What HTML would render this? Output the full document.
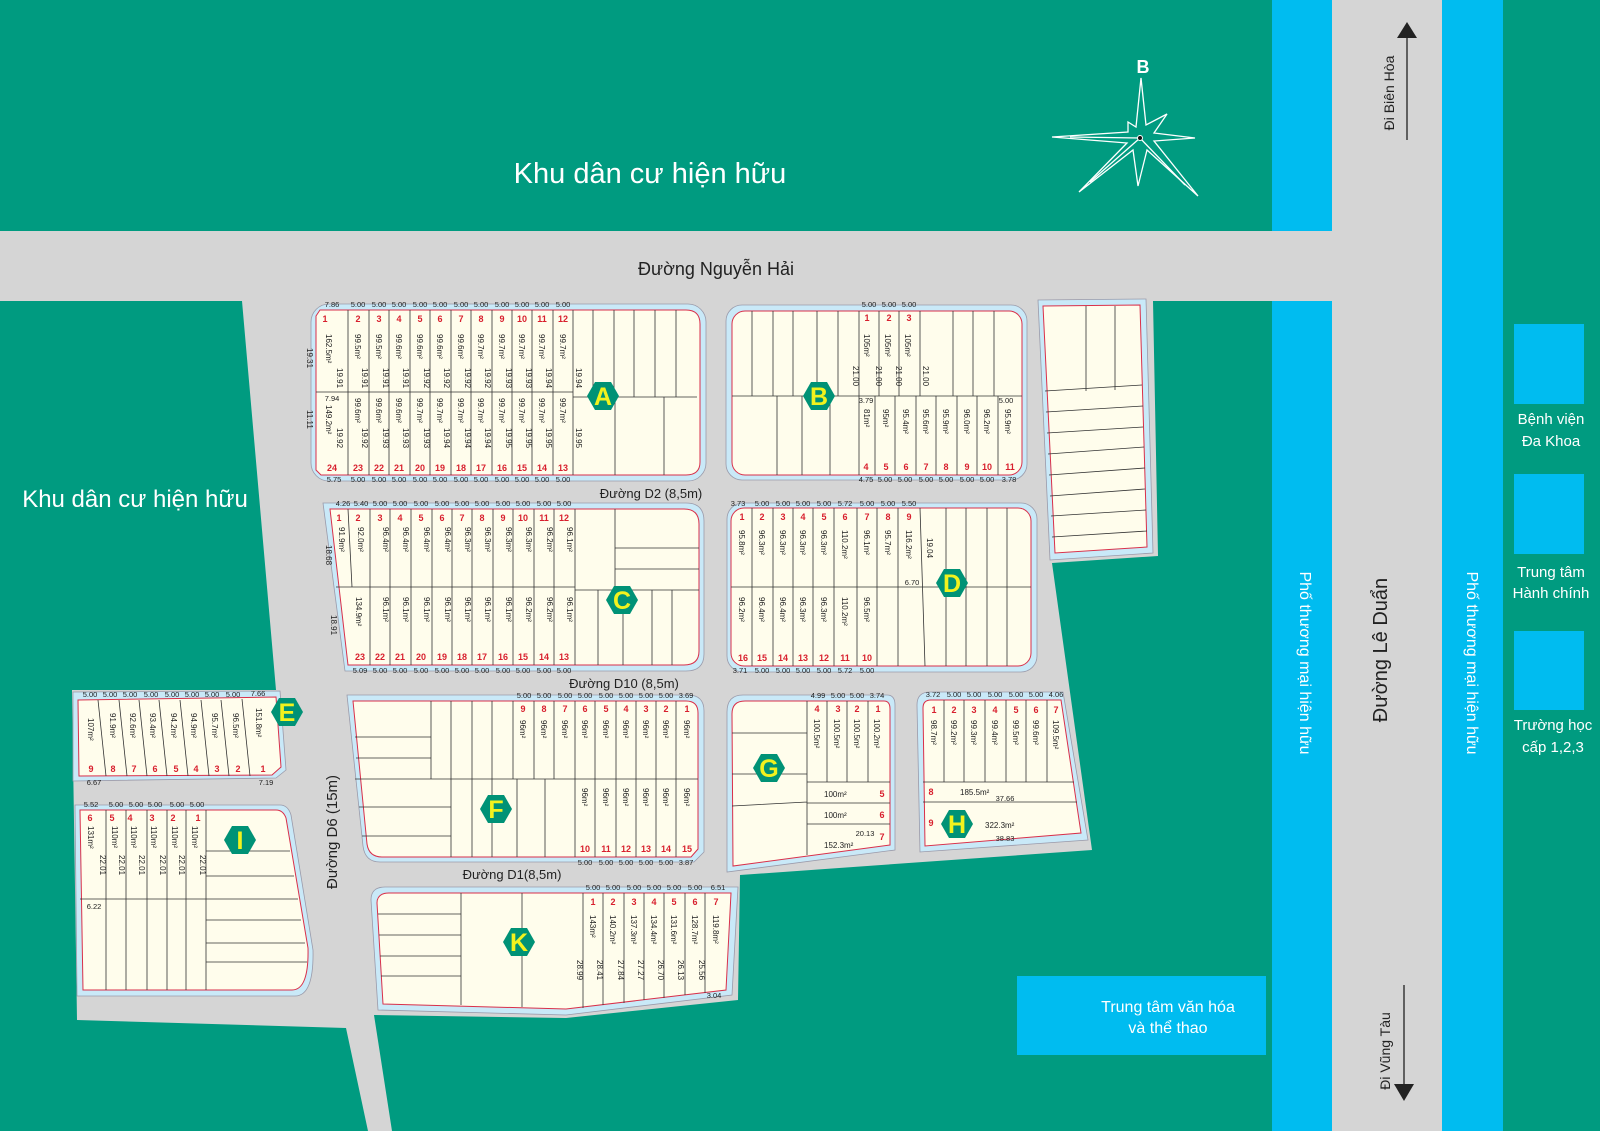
<!DOCTYPE html>
<html><head><meta charset="utf-8">
<style>
html,body{margin:0;padding:0;background:#009b80;}
svg{display:block}
text{font-family:"Liberation Sans",sans-serif;}
.n{font-size:9px;font-weight:bold;fill:#d8202e;text-anchor:middle}
.a{font-size:8px;fill:#222}
.d{font-size:7.5px;fill:#222;text-anchor:middle}
.o{fill:#c9e9f8;stroke:#9a9aaa;stroke-width:.8}
.i{fill:#fffdec;stroke:#d9304a;stroke-width:1}
.l{stroke:#333;stroke-width:.8;fill:none}
.hx polygon{fill:#009276}
.hx text{font-size:25px;font-weight:bold;fill:#f2f21e;text-anchor:middle}
.w{fill:#fff;text-anchor:middle}
</style></head><body>
<svg width="1600" height="1131" viewBox="0 0 1600 1131" xmlns="http://www.w3.org/2000/svg">
<rect width="1600" height="1131" fill="#009b80"/>
<!-- roads -->
<polygon fill="#d5d5d5" points="0,231 1332,231 1332,301 1153,301 1158,556 1052,563 1092,850 740,875 738,1000 566,1018 374,1015 392,1131 368,1131 346,1028 77,1020 72,690 276,690 242,301 0,301"/>
<rect x="1272" y="0" width="60" height="231" fill="#00bcf0"/>
<rect x="1272" y="301" width="60" height="830" fill="#00bcf0"/>
<rect x="1332" y="0" width="110" height="1131" fill="#d5d5d5"/>
<rect x="1442" y="0" width="61" height="1131" fill="#00bcf0"/>
<rect x="1503" y="0" width="97" height="1131" fill="#009b80"/>
<rect x="1514" y="324" width="70" height="80" fill="#00bcf0"/>
<rect x="1514" y="474" width="70" height="80" fill="#00bcf0"/>
<rect x="1514" y="631" width="70" height="79" fill="#00bcf0"/>
<rect x="1017" y="976" width="249" height="79" fill="#00bcf0"/>

<!-- labels -->
<text x="650" y="183" class="w" style="font-size:29px">Khu dân cư hiện hữu</text>
<text x="135" y="507" class="w" style="font-size:24px">Khu dân cư hiện hữu</text>
<text x="716" y="275" style="font-size:18px;fill:#222;text-anchor:middle">Đường Nguyễn Hải</text>
<text x="1551" y="424" class="w" style="font-size:15px">Bệnh viện</text>
<text x="1551" y="446" class="w" style="font-size:15px">Đa Khoa</text>
<text x="1551" y="577" class="w" style="font-size:15px">Trung tâm</text>
<text x="1551" y="598" class="w" style="font-size:15px">Hành chính</text>
<text x="1553" y="730" class="w" style="font-size:15px">Trường học</text>
<text x="1553" y="752" class="w" style="font-size:15px">cấp 1,2,3</text>
<text x="1168" y="1012" class="w" style="font-size:16px">Trung tâm văn hóa</text>
<text x="1168" y="1033" class="w" style="font-size:16px">và thể thao</text>
<text transform="translate(1300,663) rotate(90)" class="w" style="font-size:16px">Phố thương mại hiện hữu</text>
<text transform="translate(1467,663) rotate(90)" class="w" style="font-size:16px">Phố thương mại hiện hữu</text>
<text transform="translate(1387,650) rotate(-90)" style="font-size:20px;fill:#222;text-anchor:middle">Đường Lê Duẩn</text>
<text transform="translate(1394,93) rotate(-90)" style="font-size:14px;fill:#222;text-anchor:middle">Đi Biên Hòa</text>
<line x1="1407" y1="140" x2="1407" y2="36" stroke="#222" stroke-width="1.3"/>
<polygon points="1397,38 1417,38 1407,22" fill="#222"/>
<text transform="translate(1390,1051) rotate(-90)" style="font-size:14px;fill:#222;text-anchor:middle">Đi Vũng Tàu</text>
<line x1="1404" y1="985" x2="1404" y2="1088" stroke="#222" stroke-width="1.3"/>
<polygon points="1394,1084 1414,1084 1404,1101" fill="#222"/>
<text transform="translate(337,832) rotate(-90)" style="font-size:15px;fill:#222;text-anchor:middle">Đường D6 (15m)</text>
<text x="651" y="498" style="font-size:13px;fill:#222;text-anchor:middle">Đường D2 (8,5m)</text>
<text x="624" y="688" style="font-size:13px;fill:#222;text-anchor:middle">Đường D10 (8,5m)</text>
<text x="512" y="879" style="font-size:13px;fill:#222;text-anchor:middle">Đường D1(8,5m)</text>

<!-- compass -->
<text x="1143" y="73" class="w" style="font-size:18px;font-weight:bold">B</text>
<g stroke="#fff" stroke-width="1.3" fill="none">
<polygon points="1141,78 1146,125 1167,114 1154,133 1195,138 1154,141 1198,196 1147,150 1138,186 1133,150 1079,192 1127,143 1052,137 1128,132 1128,122 1136,127"/>
<line x1="1140" y1="138" x2="1090" y2="182"/><line x1="1140" y1="138" x2="1185" y2="185"/><line x1="1140" y1="138" x2="1070" y2="137"/>
</g>
<circle cx="1140" cy="138" r="2.5" fill="#111" stroke="#fff"/>

<!-- Block A -->
<rect class="o" x="311" y="304" width="395" height="177" rx="18"/>
<path class="i" d="M320,310 H686 Q700,310 700,324 V462 Q700,475 686,475 H321 L316,470 V316 Z"/>
<g class="l">
<path d="M316,392 H573 M573,397 H697 M573,310 V475 M615,397 V475 M664,397 V475"/>
<path d="M348,310V475M369,310V475M389,310V475M410,310V475M430,310V475M451,310V475M471,310V475M492,310V475M512,310V475M532,310V475M553,310V475"/>
<path d="M593,310V397M614,310V397M634,310V397M655,310V397M676,310V397"/>
</g>
<g class="d"><text x="332" y="307">7.86</text><text x="358" y="307">5.00</text><text x="379" y="307">5.00</text><text x="399" y="307">5.00</text><text x="420" y="307">5.00</text><text x="440" y="307">5.00</text><text x="461" y="307">5.00</text><text x="481" y="307">5.00</text><text x="502" y="307">5.00</text><text x="522" y="307">5.00</text><text x="542" y="307">5.00</text><text x="563" y="307">5.00</text>
<text x="334" y="482">5.75</text><text x="358" y="482">5.00</text><text x="379" y="482">5.00</text><text x="399" y="482">5.00</text><text x="420" y="482">5.00</text><text x="440" y="482">5.00</text><text x="461" y="482">5.00</text><text x="481" y="482">5.00</text><text x="502" y="482">5.00</text><text x="522" y="482">5.00</text><text x="542" y="482">5.00</text><text x="563" y="482">5.00</text>
<text x="332" y="401">7.94</text></g>
<g class="n"><text x="325" y="322">1</text><text x="358" y="322">2</text><text x="379" y="322">3</text><text x="399" y="322">4</text><text x="420" y="322">5</text><text x="440" y="322">6</text><text x="461" y="322">7</text><text x="481" y="322">8</text><text x="502" y="322">9</text><text x="522" y="322">10</text><text x="542" y="322">11</text><text x="563" y="322">12</text>
<text x="332" y="471">24</text><text x="358" y="471">23</text><text x="379" y="471">22</text><text x="399" y="471">21</text><text x="420" y="471">20</text><text x="440" y="471">19</text><text x="461" y="471">18</text><text x="481" y="471">17</text><text x="502" y="471">16</text><text x="522" y="471">15</text><text x="542" y="471">14</text><text x="563" y="471">13</text></g>
<g class="a">
<text transform="translate(326,334) rotate(90)">162.5m²</text><text transform="translate(355,334) rotate(90)">99.5m²</text><text transform="translate(376,334) rotate(90)">99.5m²</text><text transform="translate(396,334) rotate(90)">99.6m²</text><text transform="translate(417,334) rotate(90)">99.6m²</text><text transform="translate(437,334) rotate(90)">99.6m²</text><text transform="translate(458,334) rotate(90)">99.6m²</text><text transform="translate(478,334) rotate(90)">99.7m²</text><text transform="translate(499,334) rotate(90)">99.7m²</text><text transform="translate(519,334) rotate(90)">99.7m²</text><text transform="translate(539,334) rotate(90)">99.7m²</text><text transform="translate(560,334) rotate(90)">99.7m²</text>
<text transform="translate(337,368) rotate(90)">19.91</text><text transform="translate(362,368) rotate(90)">19.91</text><text transform="translate(383,368) rotate(90)">19.91</text><text transform="translate(403,368) rotate(90)">19.91</text><text transform="translate(424,368) rotate(90)">19.92</text><text transform="translate(444,368) rotate(90)">19.92</text><text transform="translate(465,368) rotate(90)">19.92</text><text transform="translate(485,368) rotate(90)">19.92</text><text transform="translate(506,368) rotate(90)">19.93</text><text transform="translate(526,368) rotate(90)">19.93</text><text transform="translate(546,368) rotate(90)">19.94</text><text transform="translate(576,368) rotate(90)">19.94</text>
<text transform="translate(326,405) rotate(90)">149.2m²</text><text transform="translate(355,398) rotate(90)">99.6m²</text><text transform="translate(376,398) rotate(90)">99.6m²</text><text transform="translate(396,398) rotate(90)">99.6m²</text><text transform="translate(417,398) rotate(90)">99.7m²</text><text transform="translate(437,398) rotate(90)">99.7m²</text><text transform="translate(458,398) rotate(90)">99.7m²</text><text transform="translate(478,398) rotate(90)">99.7m²</text><text transform="translate(499,398) rotate(90)">99.7m²</text><text transform="translate(519,398) rotate(90)">99.7m²</text><text transform="translate(539,398) rotate(90)">99.7m²</text><text transform="translate(560,398) rotate(90)">99.7m²</text>
<text transform="translate(337,428) rotate(90)">19.92</text><text transform="translate(362,428) rotate(90)">19.92</text><text transform="translate(383,428) rotate(90)">19.93</text><text transform="translate(403,428) rotate(90)">19.93</text><text transform="translate(424,428) rotate(90)">19.93</text><text transform="translate(444,428) rotate(90)">19.94</text><text transform="translate(465,428) rotate(90)">19.94</text><text transform="translate(485,428) rotate(90)">19.94</text><text transform="translate(506,428) rotate(90)">19.95</text><text transform="translate(526,428) rotate(90)">19.95</text><text transform="translate(546,428) rotate(90)">19.95</text><text transform="translate(576,428) rotate(90)">19.95</text>
<text transform="translate(307,348) rotate(90)">19.31</text><text transform="translate(307,410) rotate(90)">11.11</text></g>
<g class="hx" transform="translate(603,396)"><polygon points="-16,0 -8,-14 8,-14 16,0 8,14 -8,14"/><text y="9">A</text></g>

<!-- Block B -->
<rect class="o" x="726" y="305" width="301" height="175" rx="16"/>
<rect class="i" x="732" y="311" width="290" height="164" rx="13"/>
<g class="l">
<path d="M732,396 H1022"/>
<path d="M752,311V396M773,311V396M793,311V396M817,311V396M838,311V396M859,311V396M879,311V396M899,311V396M920,311V396M953,311V396M973,311V396M994,311V396"/>
<path d="M777,396V475M802,396V475M830,396V475M859,396V475M875,396V475M895,396V475M916,396V475M936,396V475M957,396V475M977,396V475M998,396V475"/>
</g>
<g class="d"><text x="869" y="307">5.00</text><text x="889" y="307">5.00</text><text x="909" y="307">5.00</text><text x="866" y="482">4.75</text><text x="885" y="482">5.00</text><text x="905" y="482">5.00</text><text x="926" y="482">5.00</text><text x="946" y="482">5.00</text><text x="967" y="482">5.00</text><text x="987" y="482">5.00</text><text x="1009" y="482">3.78</text><text x="866" y="403">3.79</text><text x="1006" y="403">5.00</text></g>
<g class="n"><text x="867" y="321">1</text><text x="889" y="321">2</text><text x="909" y="321">3</text><text x="866" y="470">4</text><text x="886" y="470">5</text><text x="906" y="470">6</text><text x="926" y="470">7</text><text x="946" y="470">8</text><text x="967" y="470">9</text><text x="987" y="470">10</text><text x="1010" y="470">11</text></g>
<g class="a"><text transform="translate(864,334) rotate(90)">105m²</text><text transform="translate(885,334) rotate(90)">105m²</text><text transform="translate(905,334) rotate(90)">105m²</text>
<text transform="translate(864,409) rotate(90)">81m²</text><text transform="translate(883,409) rotate(90)">95m²</text><text transform="translate(903,409) rotate(90)">95.4m²</text><text transform="translate(923,409) rotate(90)">95.6m²</text><text transform="translate(943,409) rotate(90)">95.9m²</text><text transform="translate(964,409) rotate(90)">96.0m²</text><text transform="translate(984,409) rotate(90)">96.2m²</text><text transform="translate(1005,409) rotate(90)">95.9m²</text>
<text transform="translate(853,366) rotate(90)">21.00</text><text transform="translate(876,366) rotate(90)">21.00</text><text transform="translate(896,366) rotate(90)">21.00</text><text transform="translate(923,366) rotate(90)">21.00</text></g>
<g class="hx" transform="translate(819,396)"><polygon points="-16,0 -8,-14 8,-14 16,0 8,14 -8,14"/><text y="9">B</text></g>

<!-- Right block -->
<polygon class="o" points="1038,300 1146,299 1153,553 1050,560"/>
<polygon class="i" points="1043,306 1140,305 1147,547 1055,553"/>
<g class="l"><path d="M1086,306V391M1115,306V390"/>
<path d="M1045,391L1142,385M1046,412L1143,406M1047,433L1143,427M1048,454L1144,447M1049,475L1145,468M1050,496L1145,489M1051,516L1146,510M1052,537L1147,531"/></g>

<!-- Block C -->
<path class="o" d="M323,503 H686 Q704,503 704,521 V654 Q704,671 686,671 H345 Z"/>
<path class="i" d="M330,509 H684 Q699,509 699,524 V651 Q699,665 684,665 H348 Z"/>
<g class="l"><path d="M336,587H575M575,509V665M615,509V590M615,548H699M615,569H699M575,590H699"/>
<path d="M348,509L352,587M370,509V665M390,509V665M411,509V665M432,509V665M452,509V665M472,509V665M493,509V665M513,509V665M534,509V665M554,509V665"/>
<path d="M598,590V665M623,590V665M652,590V665M672,590V665"/></g>
<g class="d"><text x="343" y="506">4.26</text><text x="361" y="506">5.40</text><text x="380" y="506">5.00</text><text x="400" y="506">5.00</text><text x="421" y="506">5.00</text><text x="442" y="506">5.00</text><text x="462" y="506">5.00</text><text x="482" y="506">5.00</text><text x="503" y="506">5.00</text><text x="523" y="506">5.00</text><text x="544" y="506">5.00</text><text x="564" y="506">5.00</text>
<text x="360" y="673">5.09</text><text x="380" y="673">5.00</text><text x="400" y="673">5.00</text><text x="421" y="673">5.00</text><text x="442" y="673">5.00</text><text x="462" y="673">5.00</text><text x="482" y="673">5.00</text><text x="503" y="673">5.00</text><text x="523" y="673">5.00</text><text x="544" y="673">5.00</text><text x="564" y="673">5.00</text></g>
<g class="n"><text x="339" y="521">1</text><text x="358" y="521">2</text><text x="380" y="521">3</text><text x="400" y="521">4</text><text x="421" y="521">5</text><text x="442" y="521">6</text><text x="462" y="521">7</text><text x="482" y="521">8</text><text x="503" y="521">9</text><text x="523" y="521">10</text><text x="544" y="521">11</text><text x="564" y="521">12</text>
<text x="360" y="660">23</text><text x="380" y="660">22</text><text x="400" y="660">21</text><text x="421" y="660">20</text><text x="442" y="660">19</text><text x="462" y="660">18</text><text x="482" y="660">17</text><text x="503" y="660">16</text><text x="523" y="660">15</text><text x="544" y="660">14</text><text x="564" y="660">13</text></g>
<g class="a"><text transform="translate(339,527) rotate(90)">91.9m²</text><text transform="translate(358,527) rotate(90)">92.0m²</text><text transform="translate(383,527) rotate(90)">96.4m²</text><text transform="translate(403,527) rotate(90)">96.4m²</text><text transform="translate(424,527) rotate(90)">96.4m²</text><text transform="translate(445,527) rotate(90)">96.4m²</text><text transform="translate(465,527) rotate(90)">96.3m²</text><text transform="translate(485,527) rotate(90)">96.3m²</text><text transform="translate(506,527) rotate(90)">96.3m²</text><text transform="translate(526,527) rotate(90)">96.3m²</text><text transform="translate(547,527) rotate(90)">96.2m²</text><text transform="translate(567,527) rotate(90)">96.1m²</text>
<text transform="translate(356,597) rotate(90)">134.9m²</text><text transform="translate(383,597) rotate(90)">96.1m²</text><text transform="translate(403,597) rotate(90)">96.1m²</text><text transform="translate(424,597) rotate(90)">96.1m²</text><text transform="translate(445,597) rotate(90)">96.1m²</text><text transform="translate(465,597) rotate(90)">96.1m²</text><text transform="translate(485,597) rotate(90)">96.1m²</text><text transform="translate(506,597) rotate(90)">96.1m²</text><text transform="translate(526,597) rotate(90)">96.2m²</text><text transform="translate(547,597) rotate(90)">96.2m²</text><text transform="translate(567,597) rotate(90)">96.1m²</text>
<text transform="translate(326,545) rotate(90)">18.68</text><text transform="translate(331,615) rotate(90)">18.91</text></g>
<g class="hx" transform="translate(622,600)"><polygon points="-16,0 -8,-14 8,-14 16,0 8,14 -8,14"/><text y="9">C</text></g>

<!-- Block D -->
<rect class="o" x="727" y="503" width="310" height="169" rx="16"/>
<rect class="i" x="731" y="508" width="300" height="158" rx="13"/>
<g class="l"><path d="M731,587H1031"/>
<path d="M752,508V666M773,508V666M793,508V666M813,508V666M834,508V666M857,508V666M877,508V666M898,508V666M920,508L925,666M946,508V666M966,508V666M987,508V666M1007,508V666"/></g>
<g class="d"><text x="738" y="506">3.73</text><text x="762" y="506">5.00</text><text x="783" y="506">5.00</text><text x="803" y="506">5.00</text><text x="824" y="506">5.00</text><text x="845" y="506">5.72</text><text x="867" y="506">5.00</text><text x="888" y="506">5.00</text><text x="909" y="506">5.50</text>
<text x="740" y="673">3.71</text><text x="762" y="673">5.00</text><text x="783" y="673">5.00</text><text x="803" y="673">5.00</text><text x="824" y="673">5.00</text><text x="845" y="673">5.72</text><text x="867" y="673">5.00</text><text x="912" y="585">6.70</text></g>
<g class="n"><text x="742" y="520">1</text><text x="762" y="520">2</text><text x="783" y="520">3</text><text x="803" y="520">4</text><text x="824" y="520">5</text><text x="845" y="520">6</text><text x="867" y="520">7</text><text x="888" y="520">8</text><text x="909" y="520">9</text>
<text x="743" y="661">16</text><text x="762" y="661">15</text><text x="783" y="661">14</text><text x="803" y="661">13</text><text x="824" y="661">12</text><text x="845" y="661">11</text><text x="867" y="661">10</text></g>
<g class="a"><text transform="translate(739,530) rotate(90)">95.8m²</text><text transform="translate(759,530) rotate(90)">96.3m²</text><text transform="translate(780,530) rotate(90)">96.3m²</text><text transform="translate(800,530) rotate(90)">96.3m²</text><text transform="translate(821,530) rotate(90)">96.3m²</text><text transform="translate(842,530) rotate(90)">110.2m²</text><text transform="translate(864,530) rotate(90)">96.1m²</text><text transform="translate(885,530) rotate(90)">95.7m²</text><text transform="translate(906,530) rotate(90)">116.2m²</text><text transform="translate(927,538) rotate(90)">19.04</text>
<text transform="translate(739,597) rotate(90)">96.2m²</text><text transform="translate(759,597) rotate(90)">96.4m²</text><text transform="translate(780,597) rotate(90)">96.4m²</text><text transform="translate(800,597) rotate(90)">96.3m²</text><text transform="translate(821,597) rotate(90)">96.3m²</text><text transform="translate(842,597) rotate(90)">110.2m²</text><text transform="translate(864,597) rotate(90)">96.5m²</text></g>
<g class="hx" transform="translate(952,583)"><polygon points="-16,0 -8,-14 8,-14 16,0 8,14 -8,14"/><text y="9">D</text></g>

<!-- Block E -->
<polygon class="o" points="73,692 280,691 286,770 276,778 73,781"/>
<polygon class="i" points="78,700 276,697 281,767 272,775 79,776"/>
<g class="l"><path d="M98,700L106,776M119,700L127,776M139,700L147,776M159,700L167,776M180,700L188,776M201,700L209,776M221,700L229,776M242,699L250,776"/></g>
<g class="d"><text x="90" y="697">5.00</text><text x="110" y="697">5.00</text><text x="130" y="697">5.00</text><text x="151" y="697">5.00</text><text x="172" y="697">5.00</text><text x="192" y="697">5.00</text><text x="212" y="697">5.00</text><text x="233" y="697">5.00</text><text x="258" y="696">7.66</text><text x="94" y="785">6.67</text><text x="266" y="785">7.19</text></g>
<g class="n"><text x="91" y="772">9</text><text x="113" y="772">8</text><text x="134" y="772">7</text><text x="155" y="772">6</text><text x="176" y="772">5</text><text x="196" y="772">4</text><text x="217" y="772">3</text><text x="238" y="772">2</text><text x="263" y="772">1</text></g>
<g class="a"><text transform="translate(88,718) rotate(90)">107m²</text><text transform="translate(110,713) rotate(90)">91.9m²</text><text transform="translate(130,713) rotate(90)">92.6m²</text><text transform="translate(150,713) rotate(90)">93.4m²</text><text transform="translate(171,713) rotate(90)">94.2m²</text><text transform="translate(191,713) rotate(90)">94.9m²</text><text transform="translate(212,713) rotate(90)">95.7m²</text><text transform="translate(233,713) rotate(90)">96.5m²</text><text transform="translate(256,708) rotate(90)">151.8m²</text></g>
<g class="hx" transform="translate(287,712)"><polygon points="-16,0 -8,-14 8,-14 16,0 8,14 -8,14"/><text y="9">E</text></g>

<!-- Block I -->
<path class="o" d="M75,805 H280 Q288,805 291,815 L313,950 Q314,996 295,996 H77 Z"/>
<path class="i" d="M80,810 H276 Q283,810 286,818 L308,948 Q309,990 292,990 H83 Z"/>
<g class="l"><path d="M106,810V990M126,810V990M147,810V990M167,810V990M186,810V990M206,810V990M80,899H206"/>
<path d="M206,851H290M206,876H294M206,899H298M206,920H301M206,943H305M206,962H307"/></g>
<g class="d"><text x="91" y="807">5.52</text><text x="116" y="807">5.00</text><text x="136" y="807">5.00</text><text x="155" y="807">5.00</text><text x="177" y="807">5.00</text><text x="197" y="807">5.00</text><text x="94" y="909">6.22</text></g>
<g class="n"><text x="90" y="821">6</text><text x="112" y="821">5</text><text x="130" y="821">4</text><text x="152" y="821">3</text><text x="173" y="821">2</text><text x="198" y="821">1</text></g>
<g class="a"><text transform="translate(88,826) rotate(90)">131m²</text><text transform="translate(112,826) rotate(90)">110m²</text><text transform="translate(131,826) rotate(90)">110m²</text><text transform="translate(151,826) rotate(90)">110m²</text><text transform="translate(172,826) rotate(90)">110m²</text><text transform="translate(192,826) rotate(90)">110m²</text>
<text transform="translate(100,855) rotate(90)">22.01</text><text transform="translate(119,855) rotate(90)">22.01</text><text transform="translate(139,855) rotate(90)">22.01</text><text transform="translate(160,855) rotate(90)">22.01</text><text transform="translate(179,855) rotate(90)">22.01</text><text transform="translate(200,855) rotate(90)">22.01</text></g>
<g class="hx" transform="translate(240,840)"><polygon points="-16,0 -8,-14 8,-14 16,0 8,14 -8,14"/><text y="9">I</text></g>

<!-- Block F -->
<path class="o" d="M347,695 H688 Q704,695 704,711 V852 L694,862 H380 Q365,862 363,846 Z"/>
<path class="i" d="M353,701 H686 Q698,701 698,713 V849 L691,857 H382 Q369,857 367,844 Z"/>
<g class="l"><path d="M355,779H698M355,737H431M356,758H431M359,807H451M362,836H451"/>
<path d="M431,701V779M451,701V857M472,701V857M492,701V857M513,701V779M534,701V779M554,701V779M575,701V857M595,701V857M616,701V857M636,701V857M656,701V857M676,701V857M517,779V857M545,779V857"/></g>
<g class="d"><text x="524" y="698">5.00</text><text x="544" y="698">5.00</text><text x="565" y="698">5.00</text><text x="585" y="698">5.00</text><text x="606" y="698">5.00</text><text x="626" y="698">5.00</text><text x="646" y="698">5.00</text><text x="666" y="698">5.00</text><text x="686" y="698">3.69</text>
<text x="585" y="865">5.00</text><text x="606" y="865">5.00</text><text x="626" y="865">5.00</text><text x="646" y="865">5.00</text><text x="666" y="865">5.00</text><text x="686" y="865">3.87</text></g>
<g class="n"><text x="523" y="712">9</text><text x="544" y="712">8</text><text x="565" y="712">7</text><text x="585" y="712">6</text><text x="606" y="712">5</text><text x="626" y="712">4</text><text x="646" y="712">3</text><text x="666" y="712">2</text><text x="687" y="712">1</text>
<text x="585" y="852">10</text><text x="606" y="852">11</text><text x="626" y="852">12</text><text x="646" y="852">13</text><text x="666" y="852">14</text><text x="687" y="852">15</text></g>
<g class="a"><text transform="translate(520,720) rotate(90)">96m²</text><text transform="translate(541,720) rotate(90)">96m²</text><text transform="translate(562,720) rotate(90)">96m²</text><text transform="translate(582,720) rotate(90)">96m²</text><text transform="translate(603,720) rotate(90)">96m²</text><text transform="translate(623,720) rotate(90)">96m²</text><text transform="translate(643,720) rotate(90)">96m²</text><text transform="translate(663,720) rotate(90)">96m²</text><text transform="translate(684,720) rotate(90)">96m²</text>
<text transform="translate(582,788) rotate(90)">96m²</text><text transform="translate(603,788) rotate(90)">96m²</text><text transform="translate(623,788) rotate(90)">96m²</text><text transform="translate(643,788) rotate(90)">96m²</text><text transform="translate(663,788) rotate(90)">96m²</text><text transform="translate(684,788) rotate(90)">96m²</text></g>
<g class="hx" transform="translate(496,809)"><polygon points="-16,0 -8,-14 8,-14 16,0 8,14 -8,14"/><text y="9">F</text></g>

<!-- Block G -->
<path class="o" d="M727,712 Q727,695 743,695 H887 Q895,695 895,705 V850 L727,872 Z"/>
<path class="i" d="M732,714 Q732,701 745,701 H884 Q890,701 890,709 V845 L733,866 Z"/>
<g class="l"><path d="M807,701V855M827,701V782M847,701V782M868,701V782M807,782H890M807,803H890M807,824H890M732,733H807M732,774H807M732,806L807,802"/></g>
<g class="d"><text x="818" y="698">4.99</text><text x="838" y="698">5.00</text><text x="857" y="698">5.00</text><text x="877" y="698">3.74</text><text x="865" y="836">20.13</text></g>
<g class="n"><text x="817" y="712">4</text><text x="838" y="712">3</text><text x="857" y="712">2</text><text x="878" y="712">1</text><text x="882" y="797">5</text><text x="882" y="818">6</text><text x="882" y="840">7</text></g>
<g class="a"><text transform="translate(814,719) rotate(90)">100.5m²</text><text transform="translate(834,719) rotate(90)">100.5m²</text><text transform="translate(854,719) rotate(90)">100.5m²</text><text transform="translate(874,719) rotate(90)">100.2m²</text>
<text x="824" y="797">100m²</text><text x="824" y="818">100m²</text><text x="824" y="848">152.3m²</text></g>
<g class="hx" transform="translate(769,768)"><polygon points="-16,0 -8,-14 8,-14 16,0 8,14 -8,14"/><text y="9">G</text></g>

<!-- Block H -->
<path class="o" d="M917,705 Q917,692 930,692 H1063 L1088,840 L920,852 Z"/>
<path class="i" d="M923,708 Q923,700 931,700 H1061 L1081,833 L925,846 Z"/>
<g class="l"><path d="M944,700V782M964,700V782M985,700V782M1006,700V782M1026,700V782M1047,700V782M923,782H1074M923,802H1077"/></g>
<g class="d"><text x="933" y="697">3.72</text><text x="954" y="697">5.00</text><text x="974" y="697">5.00</text><text x="995" y="697">5.00</text><text x="1016" y="697">5.00</text><text x="1036" y="697">5.00</text><text x="1056" y="697">4.06</text><text x="1005" y="801">37.66</text><text x="1005" y="841">38.83</text></g>
<g class="n"><text x="934" y="713">1</text><text x="954" y="713">2</text><text x="974" y="713">3</text><text x="995" y="713">4</text><text x="1016" y="713">5</text><text x="1036" y="713">6</text><text x="1056" y="713">7</text><text x="931" y="795">8</text><text x="931" y="826">9</text></g>
<g class="a"><text transform="translate(931,720) rotate(90)">98.7m²</text><text transform="translate(951,720) rotate(90)">99.2m²</text><text transform="translate(971,720) rotate(90)">99.3m²</text><text transform="translate(992,720) rotate(90)">99.4m²</text><text transform="translate(1013,720) rotate(90)">99.5m²</text><text transform="translate(1033,720) rotate(90)">99.6m²</text><text transform="translate(1053,720) rotate(90)">109.5m²</text>
<text x="960" y="795">185.5m²</text><text x="985" y="828">322.3m²</text></g>
<g class="hx" transform="translate(957,824)"><polygon points="-16,0 -8,-14 8,-14 16,0 8,14 -8,14"/><text y="9">H</text></g>

<!-- Block K -->
<path class="o" d="M371,900 Q371,887 385,887 H738 L732,995 L566,1015 L378,1010 Z"/>
<path class="i" d="M377,903 Q377,893 389,893 H731 L726,990 L566,1009 L383,1004 Z"/>
<g class="l"><path d="M461,893V1005M522,893V1007M583,893V1008M603,893V1005M624,893V1003M644,893V1000M664,893V998M685,893V995M705,893V993"/>
<path d="M378,914H461M379,935H461M380,956H461M381,976H461"/></g>
<g class="d"><text x="593" y="890">5.00</text><text x="613" y="890">5.00</text><text x="634" y="890">5.00</text><text x="654" y="890">5.00</text><text x="674" y="890">5.00</text><text x="695" y="890">5.00</text><text x="718" y="890">6.51</text><text x="714" y="998">3.04</text></g>
<g class="n"><text x="593" y="905">1</text><text x="613" y="905">2</text><text x="634" y="905">3</text><text x="654" y="905">4</text><text x="674" y="905">5</text><text x="695" y="905">6</text><text x="716" y="905">7</text></g>
<g class="a"><text transform="translate(590,915) rotate(90)">143m²</text><text transform="translate(610,915) rotate(90)">140.2m²</text><text transform="translate(631,915) rotate(90)">137.3m²</text><text transform="translate(651,915) rotate(90)">134.4m²</text><text transform="translate(671,915) rotate(90)">131.6m²</text><text transform="translate(692,915) rotate(90)">128.7m²</text><text transform="translate(713,915) rotate(90)">119.8m²</text>
<text transform="translate(577,960) rotate(90)">28.99</text><text transform="translate(597,960) rotate(90)">28.41</text><text transform="translate(618,960) rotate(90)">27.84</text><text transform="translate(638,960) rotate(90)">27.27</text><text transform="translate(658,960) rotate(90)">26.70</text><text transform="translate(678,960) rotate(90)">26.13</text><text transform="translate(699,960) rotate(90)">25.56</text></g>
<g class="hx" transform="translate(519,942)"><polygon points="-16,0 -8,-14 8,-14 16,0 8,14 -8,14"/><text y="9">K</text></g>
</svg>
</body></html>
